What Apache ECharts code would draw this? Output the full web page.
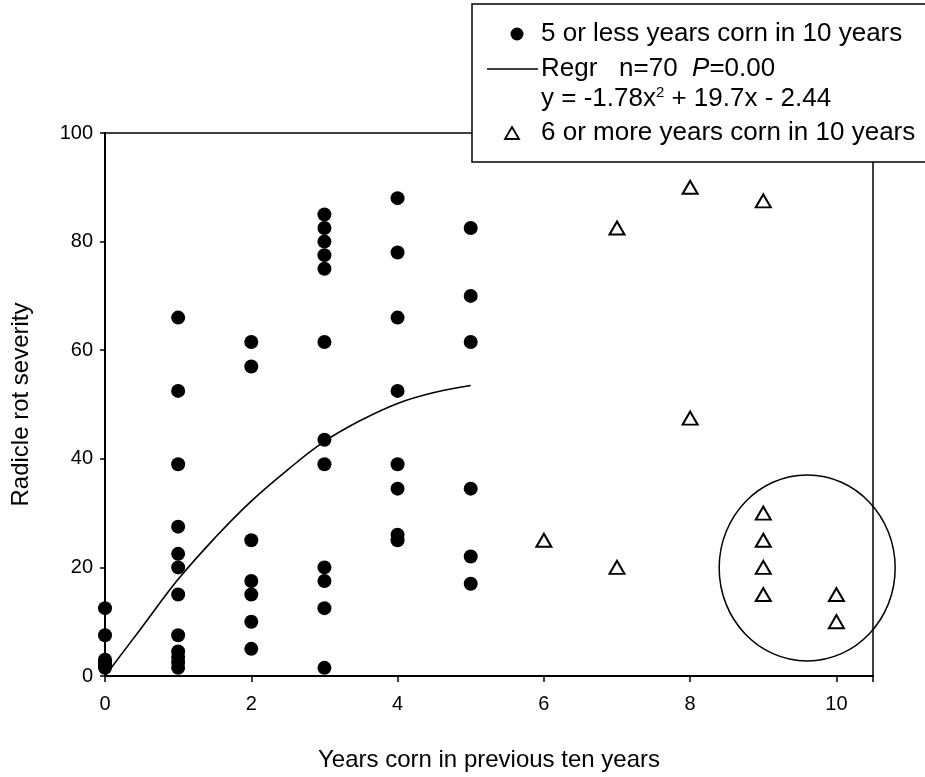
<!DOCTYPE html>
<html>
<head>
<meta charset="utf-8">
<script src="https://cdn.jsdelivr.net/npm/echarts@6/dist/echarts.min.js"></script>
<style>
  html, body { margin: 0; padding: 0; background: #fff; }
  #chart { width: 925px; height: 777px; }
</style>
</head>
<body>
<div id="chart"></div>
<script>
// 5 or less years corn in 10 years (filled dots), grouped by year
const lowYears = [0, 1, 2, 3, 4, 5];
const lowSeverity = [
  [12.5, 7.5, 3, 2.5, 2, 1.5],
  [66, 52.5, 39, 27.5, 22.5, 20, 15, 7.5, 4.5, 3.5, 2.5, 1.5],
  [61.5, 57, 25, 17.5, 15, 10, 5],
  [85, 82.5, 80, 77.5, 75, 61.5, 43.5, 39, 20, 17.5, 12.5, 1.5],
  [88, 78, 66, 52.5, 39, 34.5, 26, 25],
  [82.5, 70, 61.5, 34.5, 22, 17]
];

// 6 or more years corn in 10 years (open triangles)
const highYears = [6, 7, 7, 8, 8, 9, 9, 9, 9, 9, 10, 10];
const highSeverity = [25, 82.5, 20, 90, 47.5, 87.5, 30, 25, 20, 15, 15, 10];

// regression curve as drawn in the figure
const regrX = [0, 0.5, 1, 1.5, 2, 2.5, 3, 3.5, 4, 4.5, 5];
const regrY = [0, 8.9, 17.8, 25.4, 32.2, 38, 43.2, 47.1, 50.2, 52.2, 53.5];

const xTicks = [0, 2, 4, 6, 8, 10];
const circleCenter = [9.6, 19.9]; // hand drawn circle around the low group

const FONT = 'Liberation Sans, Arial, sans-serif';

const lowData = [];
lowYears.forEach((yr, i) => {
  lowSeverity[i].forEach(v => lowData.push([yr, v]));
});
const highData = highYears.map((yr, i) => [yr, highSeverity[i]]);
const regrData = regrX.map((x, i) => [x, regrY[i]]);

var myChart = echarts.init(document.getElementById('chart'));
myChart.setOption({
  backgroundColor: '#fff',
  animation: false,
  grid: {
    left: 105, right: 52, top: 133, bottom: 98,
    show: true, borderColor: '#000', borderWidth: 1.5
  },
  xAxis: {
    type: 'value', min: 0, max: 10.5, interval: 2,
    name: 'Years corn in previous ten years',
    nameLocation: 'middle', nameGap: 72,
    nameTextStyle: { fontSize: 24, color: '#000', fontFamily: FONT },
    axisLine: { lineStyle: { color: '#000', width: 2 } },
    axisTick: { length: 6, lineStyle: { color: '#000', width: 1.5 } },
    axisLabel: {
      fontSize: 20, color: '#000', fontFamily: FONT, margin: 18,
      formatter: v => xTicks.indexOf(v) >= 0 ? String(v) : ''
    },
    splitLine: { show: false }
  },
  yAxis: {
    type: 'value', min: 0, max: 100, interval: 20,
    name: 'Radicle rot severity',
    nameLocation: 'middle', nameGap: 72,
    nameTextStyle: { fontSize: 24, color: '#000', fontFamily: FONT },
    axisLine: { lineStyle: { color: '#000', width: 2 } },
    axisTick: { length: 5, lineStyle: { color: '#000', width: 1.5 } },
    axisLabel: { fontSize: 20, color: '#000', fontFamily: FONT, margin: 12 },
    splitLine: { show: false }
  },
  series: [
    {
      name: '5 or less years corn in 10 years',
      type: 'scatter', clip: false,
      symbol: 'circle', symbolSize: 14,
      itemStyle: { color: '#000', opacity: 1 },
      data: lowData, z: 3
    },
    {
      name: 'Regr',
      type: 'line', smooth: 0.4, showSymbol: false,
      lineStyle: { color: '#000', width: 1.6 },
      data: regrData, z: 2
    },
    {
      name: '6 or more years corn in 10 years',
      type: 'scatter', clip: false,
      symbol: 'triangle', symbolSize: [15, 13],
      itemStyle: { color: '#fff', borderColor: '#000', borderWidth: 2, opacity: 1 },
      data: highData, z: 3
    }
  ]
});

// annotation circle + legend box drawn on top
const c = myChart.convertToPixel({ gridIndex: 0 }, circleCenter);
const legendText = { fontSize: 26, fontFamily: FONT, fill: '#000', verticalAlign: 'middle' };
myChart.setOption({
  graphic: [
    {
      type: 'ellipse', z: 50,
      shape: { cx: c[0], cy: c[1], rx: 88, ry: 93 },
      style: { fill: 'none', stroke: '#000', lineWidth: 1.5 }
    },
    {
      type: 'group', z: 100,
      children: [
        { type: 'rect', shape: { x: 472, y: 4, width: 470, height: 158 },
          style: { fill: '#fff', stroke: '#000', lineWidth: 1.5 } },
        { type: 'circle', shape: { cx: 517, cy: 34, r: 6.5 }, style: { fill: '#000' } },
        { type: 'text', x: 541, y: 34, style: Object.assign({ text: '5 or less years corn in 10 years' }, legendText) },
        { type: 'line', shape: { x1: 487, y1: 69, x2: 538, y2: 69 }, style: { stroke: '#000', lineWidth: 1.5 } },
        { type: 'text', x: 541, y: 69, style: Object.assign({
            text: 'Regr   n=70  {i|P}=0.00',
            rich: { i: { fontStyle: 'italic', fontSize: 26, fontFamily: FONT } }
          }, legendText) },
        { type: 'text', x: 541, y: 99, style: Object.assign({
            text: 'y = -1.78x{s|2} + 19.7x - 2.44',
            rich: { s: { fontSize: 15, fontFamily: FONT, verticalAlign: 'top', lineHeight: 27 } }
          }, legendText) },
        { type: 'polygon', shape: { points: [[505, 139], [519, 139], [512, 127]] },
          style: { fill: '#fff', stroke: '#000', lineWidth: 1.8 } },
        { type: 'text', x: 541, y: 133, style: Object.assign({ text: '6 or more years corn in 10 years' }, legendText) }
      ]
    }
  ]
});
</script>
</body>
</html>
